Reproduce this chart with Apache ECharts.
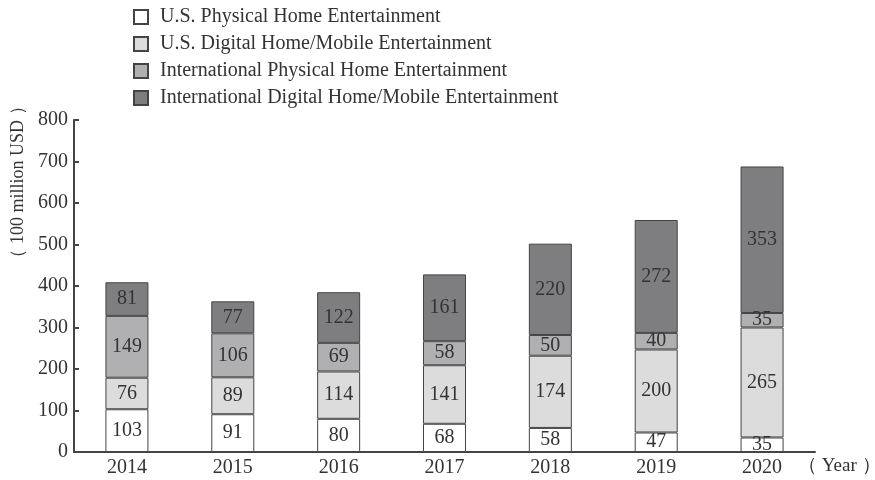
<!DOCTYPE html>
<html>
<head>
<meta charset="utf-8">
<script src="https://cdn.jsdelivr.net/npm/echarts@6/dist/echarts.min.js"></script>
<style>
  html, body { margin: 0; padding: 0; background: #fff; }
  #chart { width: 875px; height: 480px; }
</style>
</head>
<body>
<div id="chart"></div>
<script>
// 数据
const years = ['2014', '2015', '2016', '2017', '2018', '2019', '2020'];
const usPhysical = [103, 91, 80, 68, 58, 47, 35];
const usDigital = [76, 89, 114, 141, 174, 200, 265];
const intlPhysical = [149, 106, 69, 58, 50, 40, 35];
const intlDigital = [81, 77, 122, 161, 220, 272, 353];
const seriesNames = [
  'U.S. Physical Home Entertainment',
  'U.S. Digital Home/Mobile Entertainment',
  'International Physical Home Entertainment',
  'International Digital Home/Mobile Entertainment'
];

const font = '"Liberation Serif", "DejaVu Serif", serif';
const colors = ['#ffffff', '#dcdcdc', '#b0b0b2', '#7e7e80'];
const borderColor = '#444';

const chart = echarts.init(document.getElementById('chart'));

const makeSeries = (name, data, i) => ({
  name: name,
  type: 'bar',
  stack: 'total',
  barWidth: 43,
  data: data,
  itemStyle: { color: colors[i], borderColor: borderColor, borderWidth: 1 },
  label: {
    show: true,
    position: 'inside',
    fontFamily: font,
    fontSize: 20,
    color: '#333'
  }
});

const option = {
  animation: false,
  textStyle: { fontFamily: font },
  legend: {
    orient: 'vertical',
    left: 133,
    top: 7,
    padding: 0,
    itemWidth: 14,
    itemHeight: 14,
    itemGap: 7,
    icon: 'rect',
    data: seriesNames,
    textStyle: { fontFamily: font, fontSize: 20, color: '#333', padding: [0, 0, 0, 7] }
  },
  grid: { left: 74, right: 60, top: 120, bottom: 28, containLabel: false },
  xAxis: {
    type: 'category',
    data: years,
    axisLine: { lineStyle: { color: '#444', width: 2 } },
    axisTick: { inside: true, length: 5, lineStyle: { color: '#444', width: 2 } },
    axisLabel: { fontFamily: font, fontSize: 20, color: '#333', margin: 6 }
  },
  yAxis: {
    type: 'value',
    min: 0,
    max: 800,
    interval: 100,
    splitLine: { show: false },
    axisLine: { show: true, lineStyle: { color: '#444', width: 2 } },
    axisTick: { show: true, inside: true, length: 5, lineStyle: { color: '#444', width: 2 } },
    axisLabel: { fontFamily: font, fontSize: 20, color: '#333', margin: 6 }
  },
  graphic: [
    {
      type: 'text',
      x: 18,
      y: 182,
      rotation: Math.PI / 2,
      style: {
        text: '（ 100 million USD ）',
        fontFamily: font,
        fontSize: 18,
        fill: '#333',
        align: 'center',
        verticalAlign: 'middle'
      }
    },
    {
      type: 'text',
      left: 798,
      top: 457,
      style: { text: '（ Year ）', fontFamily: font, fontSize: 19, fill: '#333' }
    }
  ],
  series: [
    makeSeries(seriesNames[0], usPhysical, 0),
    makeSeries(seriesNames[1], usDigital, 1),
    makeSeries(seriesNames[2], intlPhysical, 2),
    makeSeries(seriesNames[3], intlDigital, 3)
  ]
};

chart.setOption(option);
</script>
</body>
</html>
